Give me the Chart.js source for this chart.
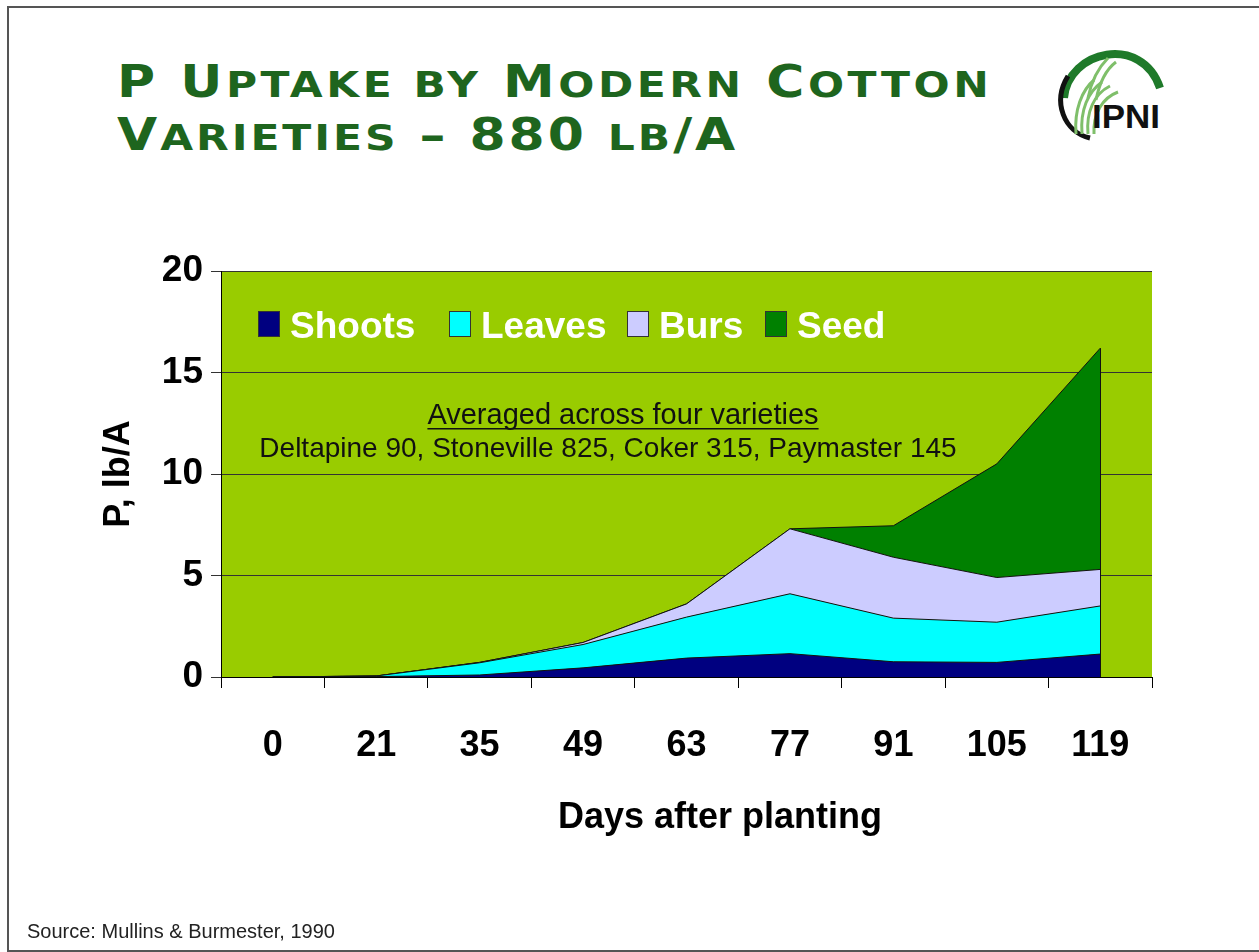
<!DOCTYPE html>
<html>
<head>
<meta charset="utf-8">
<script src="https://cdn.jsdelivr.net/npm/chart.js@4.4.0/dist/chart.umd.min.js"></script>
<style>
  body { margin: 0; background: #fff; width: 1259px; height: 952px; overflow: hidden; position: relative; font-family: "Liberation Sans", Arial, sans-serif; }
  .frame { position: absolute; left: 7px; top: 6px; width: 1300px; height: 942px; border: 2px solid #555; border-right: none; }
  .title { position: absolute; left: 117px; color: #1e651e; font-family: "DejaVu Sans", sans-serif; font-weight: bold; font-size: 44px; line-height: 53px; letter-spacing: 3px; white-space: nowrap; transform: scaleX(1.18); transform-origin: left center; }
  .title .s { font-size: 36px; }
  #line1 { top: 55px; }
  #line2 { top: 108px; letter-spacing: 2.5px; }
  .logo { position: absolute; left: 1050px; top: 36px; }
  .source { position: absolute; left: 27px; top: 920px; font-size: 20px; color: #222; }
  #wrap { position: absolute; left: 0; top: 0; width: 1259px; height: 952px; }
</style>
</head>
<body>
<div class="frame"></div>
<div class="title" id="line1">P U<span class="s">PTAKE BY</span> M<span class="s">ODERN</span> C<span class="s">OTTON</span></div>
<div class="title" id="line2">V<span class="s">ARIETIES</span> – 880 <span class="s">LB</span>/A</div>
<svg class="logo" width="120" height="110" viewBox="0 0 120 110">
  <path d="M14 62 C 18 14, 92 -2, 110 52" stroke="#1f7a2a" stroke-width="8" fill="none"/>
  <path d="M18 40 C 2 66, 14 96, 40 102" stroke="#111" stroke-width="5" fill="none"/>
  <g stroke="#7fbf6a" stroke-width="3" fill="none">
    <path d="M26 98 C 24 74, 32 54, 44 44"/>
    <path d="M32 98 C 30 74, 38 56, 52 46"/>
    <path d="M38 98 C 36 76, 44 58, 60 50"/>
    <path d="M44 98 C 43 78, 52 62, 68 56"/>
    <path d="M38 62 C 42 42, 50 30, 58 22"/>
    <path d="M46 64 C 50 44, 58 32, 66 26"/>
  </g>
  <text x="42" y="92" font-family="Liberation Sans" font-weight="bold" font-size="34" fill="#111" textLength="68" lengthAdjust="spacingAndGlyphs">IPNI</text>
</svg>
<div id="wrap"><canvas id="chart"></canvas></div>
<div class="source">Source: Mullins &amp; Burmester, 1990</div>

<script>
// days after planting (categories)
const days = ['0', '21', '35', '49', '63', '77', '91', '105', '119'];

// P uptake by plant part, lb/A (stacked)
const shoots = [0, 0.02, 0.1, 0.45, 0.93, 1.15, 0.75, 0.72, 1.13];
const leaves = [0, 0.03, 0.6, 1.15, 2.02, 2.95, 2.15, 1.98, 2.37];
const burs   = [0, 0, 0.02, 0.1, 0.65, 3.2, 3.0, 2.2, 1.8];
const seed   = [0, 0, 0, 0, 0, 0, 1.55, 5.6, 10.9];

const yTicks = [0, 5, 10, 15, 20];

const noteTitle = 'Averaged across four varieties';
const noteText = 'Deltapine 90, Stoneville 825, Coker 315, Paymaster 145';
const xTitle = 'Days after planting';

// green plot background like the slide
const plotBg = {
    id: 'plotBg',
    beforeDraw(chart) {
        const { ctx, chartArea: a } = chart;
        ctx.save();
        ctx.fillStyle = '#99cc00';
        ctx.fillRect(a.left, a.top, a.right - a.left, a.bottom - a.top);
        ctx.restore();
    }
};

// closing edge of the stack at the last day, as the slide draws it
const lastEdge = {
    id: 'lastEdge',
    afterDatasetsDraw(chart) {
        const { ctx } = chart;
        const n = chart.data.labels.length - 1;
        const top = chart.getDatasetMeta(chart.data.datasets.length - 1).data[n];
        const base = chart.scales.y.getPixelForValue(0);
        ctx.save();
        ctx.strokeStyle = '#111';
        ctx.lineWidth = 1;
        ctx.beginPath();
        ctx.moveTo(Math.round(top.x) + 0.5, top.y);
        ctx.lineTo(Math.round(top.x) + 0.5, base);
        ctx.stroke();
        ctx.restore();
    }
};

// legend inside the plot, notes and x title
const legendXs = [258, 449, 627, 765];
const overlay = {
    id: 'overlay',
    afterDraw(chart) {
        const { ctx } = chart;
        ctx.save();
        chart.data.datasets.forEach((ds, i) => {
            const x = legendXs[i];
            ctx.fillStyle = ds.backgroundColor;
            ctx.fillRect(x, 311, 21, 25);
            ctx.strokeStyle = '#333';
            ctx.lineWidth = 1;
            ctx.strokeRect(x + 0.5, 311.5, 21, 25);
            ctx.fillStyle = '#fff';
            ctx.font = 'bold 37px "Liberation Sans", Arial';
            ctx.textBaseline = 'alphabetic';
            ctx.textAlign = 'left';
            ctx.fillText(ds.label, x + 32, 338);
        });

        ctx.fillStyle = '#111';
        ctx.textAlign = 'center';
        ctx.font = '29px "Liberation Sans", Arial';
        ctx.fillText(noteTitle, 623, 424);
        const w = ctx.measureText(noteTitle).width;
        ctx.fillRect(623 - w / 2, 428, w, 1.5);
        ctx.font = '28px "Liberation Sans", Arial';
        ctx.fillText(noteText, 608, 457);

        ctx.fillStyle = '#000';
        ctx.font = 'bold 36px "Liberation Sans", Arial';
        ctx.fillText(xTitle, 720, 828);
        ctx.restore();
    }
};

function makeSet(label, data, color, fill) {
    return {
        label: label,
        data: data,
        backgroundColor: color,
        borderColor: '#111',
        borderWidth: 1,
        pointRadius: 0,
        tension: 0,
        fill: fill
    };
}

new Chart(document.getElementById('chart'), {
    type: 'line',
    data: {
        labels: days,
        datasets: [
            makeSet('Shoots', shoots, '#000080', 'origin'),
            makeSet('Leaves', leaves, '#00ffff', '-1'),
            makeSet('Burs', burs, '#ccccff', '-1'),
            makeSet('Seed', seed, '#008000', '-1')
        ]
    },
    options: {
        responsive: true,
        maintainAspectRatio: false,
        animation: false,
        layout: { padding: { left: 80, top: 271, right: 107, bottom: 180 } },
        plugins: {
            legend: { display: false },
            tooltip: { enabled: false }
        },
        scales: {
            x: {
                offset: true,
                grid: { offset: true, drawOnChartArea: false, color: '#000', tickLength: 11 },
                border: { display: true, color: '#000', width: 1 },
                ticks: { color: '#000', padding: 36, font: { family: '"Liberation Sans", Arial', size: 36, weight: 'bold' } },
                afterFit(scale) { scale.height = 95; }
            },
            y: {
                stacked: true,
                min: yTicks[0],
                max: yTicks[yTicks.length - 1],
                ticks: { stepSize: yTicks[1] - yTicks[0], color: '#000', padding: 8, font: { family: '"Liberation Sans", Arial', size: 37, weight: 'bold' } },
                grid: { color: '#333', lineWidth: 1, tickLength: 10 },
                border: { display: true, color: '#000', width: 1 },
                title: { display: true, text: 'P, lb/A', color: '#000', padding: { top: 17, bottom: 0 }, font: { family: '"Liberation Sans", Arial', size: 36, weight: 'bold' } },
                afterFit(scale) { scale.width = 141; }
            }
        }
    },
    plugins: [plotBg, lastEdge, overlay]
});
</script>
</body>
</html>
